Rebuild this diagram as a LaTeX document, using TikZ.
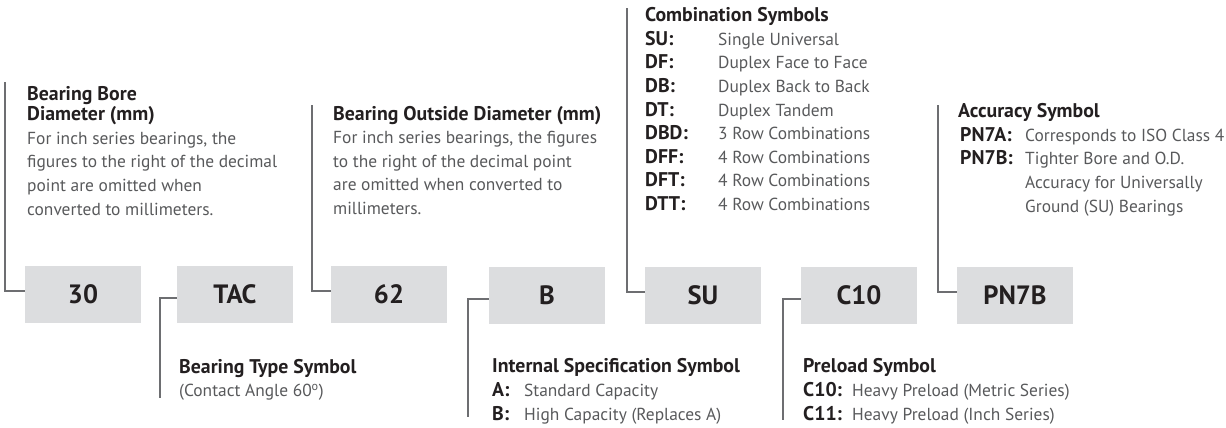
\documentclass[tikz,border=0pt]{standalone}
\usepackage{fontspec}
\setmainfont{PT Sans}
\usetikzlibrary{positioning}
\definecolor{boxgray}{HTML}{DCDDDF}
\definecolor{leadgray}{HTML}{6D6E71}
\definecolor{textgray}{HTML}{58595B}
\definecolor{titlegray}{HTML}{231F20}
\newcommand{\ttl}[1]{{\color{titlegray}\fontsize{19.8}{23.6}\selectfont\bfseries #1}}
\newcommand{\sym}[2]{\makebox[#1][l]{\ttl{#2}}}
\tikzset{
	codebox/.style={fill=boxgray, minimum width=116pt, minimum height=57pt, inner sep=0pt,
		text=titlegray, font=\fontsize{26.5}{26.5}\selectfont\bfseries},
	lead/.style={draw=leadgray, line width=2.2pt},
	% anchored at the baseline of the last line
	info/.style={anchor=base west, inner sep=0pt, align=left, text=textgray,
		font=\fontsize{17.4}{23.6}\selectfont},
}
\begin{document}
\begin{tikzpicture}[x=1pt,y=-1pt]
			\useasboundingbox (0,0) rectangle (1226,428);
			% designation boxes
			\node[codebox] (b30) at (83,294) {30};
			\node[codebox] (bTAC) at (235,294) {TAC};
			\node[codebox] (b62) at (389,294) {62};
			\node[codebox] (bB) at (547,295) {B};
			\node[codebox] (bSU) at (703,295) {SU};
			\node[codebox] (bC10) at (859,295) {C10};
			\node[codebox] (bPN) at (1015,295) {PN7B};
			% ends of the leaders
			\coordinate (up30) at (5,82);
			\coordinate (dnTAC) at (160,398);
			\coordinate (up62) at (312,105);
			\coordinate (dnB) at (468,417);
			\coordinate (upSU) at (627,8);
			\coordinate (dnC10) at (783,420);
			\coordinate (upPN) at (938,105);
			\draw[lead] ([yshift=3pt]b30.west) -| (up30);
			\draw[lead] ([yshift=-4pt]bTAC.west) -| (dnTAC);
			\draw[lead] ([yshift=3pt]b62.west) -| (up62);
			\draw[lead] ([yshift=-4pt]bB.west) -| (dnB);
			\draw[lead] ([yshift=3pt]bSU.west) -| (upSU);
			\draw[lead] ([yshift=-4pt]bC10.west) -| (dnC10);
			\draw[lead] ([yshift=3pt]bPN.west) -| (upPN);
			% upper texts
			\node[info] (tBore) at (27,215) {\ttl{Bearing Bore}\\[-3.5pt]
				\ttl{Diameter (mm)}\\
				For inch series bearings, the\\
				figures to the right of the decimal\\
				point are omitted when\\
				converted to millimeters.};
			\node[info] (tOut) at (333,214.5) {\ttl{Bearing Outside Diameter (mm)}\\
				For inch series bearings, the figures\\
				to the right of the decimal point\\
				are omitted when converted to\\
				millimeters.};
			\node[info] (tComb) at (645,210.5) {\ttl{Combination Symbols}\\
				\sym{73pt}{SU:}Single Universal\\
				\sym{73pt}{DF:}Duplex Face to Face\\
				\sym{73pt}{DB:}Duplex Back to Back\\
				\sym{73pt}{DT:}Duplex Tandem\\
				\sym{73pt}{DBD:}3 Row Combinations\\
				\sym{73pt}{DFF:}4 Row Combinations\\
				\sym{73pt}{DFT:}4 Row Combinations\\
				\sym{73pt}{DTT:}4 Row Combinations};
			\node[info] (tAcc) at (958,212) {\ttl{Accuracy Symbol}\\
				\hspace*{2pt}\sym{65pt}{PN7A:}Corresponds to ISO Class 4\\
				\hspace*{2pt}\sym{65pt}{PN7B:}Tighter Bore and O.D.\\
				\hspace*{67pt}Accuracy for Universally\\
				\hspace*{67pt}Ground (SU) Bearings};
			% lower texts
			\node[info] (tType) at (179,396.7) {\ttl{Bearing Type Symbol}\\
				(Contact Angle 60\textsuperscript{o})};
			\node[info] (tSpec) at (492,420) {\ttl{Internal Specification Symbol}\\
				\sym{32pt}{A:}Standard Capacity\\
				\sym{32pt}{B:}High Capacity (Replaces A)};
			\node[info] (tLoad) at (803,420) {\ttl{Preload Symbol}\\
				\sym{49pt}{C10:}Heavy Preload (Metric Series)\\
				\sym{49pt}{C11:}Heavy Preload (Inch Series)};
\end{tikzpicture}
\end{document}
